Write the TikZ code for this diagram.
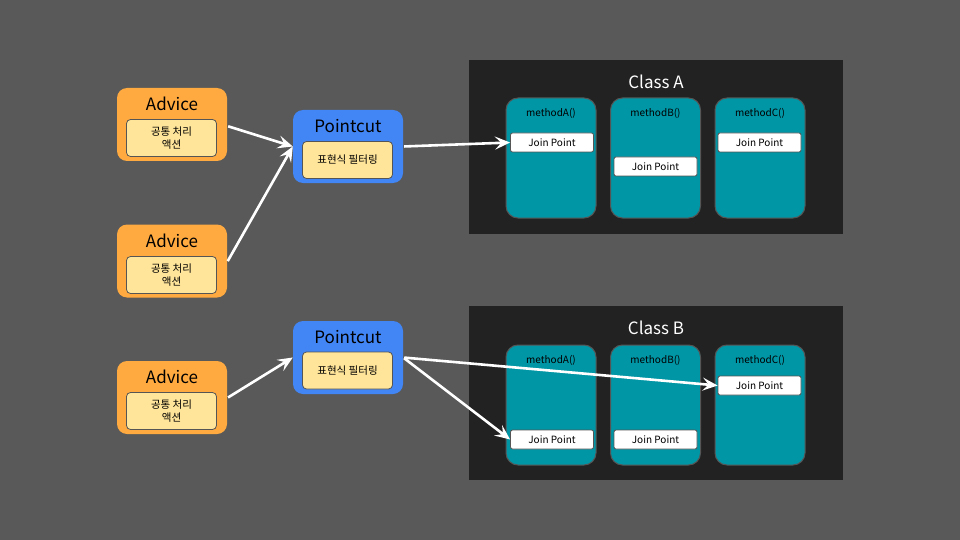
\documentclass[tikz,border=0pt]{standalone}
\usepackage{fontspec}
\setmainfont{Noto Sans CJK KR}
\usetikzlibrary{arrows.meta}
\definecolor{bgc}{RGB}{89,89,89}
\definecolor{classbg}{RGB}{34,34,34}
\definecolor{teal}{RGB}{0,150,166}
\definecolor{orangec}{RGB}{255,170,64}
\definecolor{innerc}{RGB}{255,229,153}
\definecolor{bluec}{RGB}{66,133,244}
\definecolor{edgec}{RGB}{85,85,85}
\tikzset{
  advicebox/.style={fill=orangec, draw=none, rounded corners=10pt, minimum width=110pt, minimum height=73pt, inner sep=0pt},
  pcbox/.style={fill=bluec, draw=none, rounded corners=10pt, minimum width=110pt, minimum height=73pt, inner sep=0pt},
  innerbox/.style={fill=innerc, draw=edgec, line width=0.8pt, rounded corners=4pt, minimum width=90pt, minimum height=37pt, inner sep=0pt, font=\fontsize{10.5}{12.5}\selectfont, align=center},
  title/.style={font=\fontsize{17}{20}\selectfont, text=black},
  classbox/.style={fill=classbg, draw=none, minimum width=374pt, minimum height=174pt, inner sep=0pt},
  classtitle/.style={font=\fontsize{17}{20}\selectfont, text=white},
  methodbox/.style={fill=teal, draw=edgec, line width=1pt, rounded corners=12pt, minimum width=90pt, minimum height=120pt, inner sep=0pt},
  methodlabel/.style={font=\fontsize{10}{11}\selectfont, text=black},
  jpbox/.style={fill=white, draw=edgec, line width=0.8pt, rounded corners=2pt, minimum width=83pt, minimum height=19pt, inner sep=0pt, font=\fontsize{10}{11}\selectfont},
  conn/.style={draw=white, line width=2.6pt, -{Stealth[length=15pt,width=13pt,inset=6pt]}, shorten <=1pt}
}
\begin{document}
\begin{tikzpicture}[x=1pt,y=-1pt]
\fill[bgc] (0,0) rectangle (960,540);
\useasboundingbox (0,0) rectangle (960,540);

% Advice boxes
\node[advicebox] (adv1) at (172,124.5) {};
\node[title] at (172,104) {Advice};
\node[innerbox] (adv1i) at (171.5,138) {공통 처리\\액션};
\node[advicebox] (adv2) at (172,261) {};
\node[title] at (172,241) {Advice};
\node[innerbox] (adv2i) at (171.5,275) {공통 처리\\액션};
\node[advicebox] (adv3) at (172,397.5) {};
\node[title] at (172,377) {Advice};
\node[innerbox] (adv3i) at (171.5,411) {공통 처리\\액션};

% Pointcut boxes
\node[pcbox] (pc1) at (348,146.5) {};
\node[title] at (348,126) {Pointcut};
\node[innerbox] (pc1i) at (347.5,160) {표현식 필터링};
\node[pcbox] (pc2) at (348,357.5) {};
\node[title] at (348,337) {Pointcut};
\node[innerbox] (pc2i) at (347.5,370.5) {표현식 필터링};

% Class A
\node[classbox] (clsA) at (656,147) {};
\node[classtitle] at (656,82) {Class A};
\node[methodbox] (aA) at (551,158) {};
\node[methodlabel] at (551,113.5) {methodA()};
\node[methodbox] (aB) at (655.5,158) {};
\node[methodlabel] at (655.5,113.5) {methodB()};
\node[methodbox] (aC) at (760,158) {};
\node[methodlabel] at (760,113.5) {methodC()};
\node[jpbox] (jpAA) at (552,142.5) {Join Point};
\node[jpbox] (jpAB) at (655.5,166.5) {Join Point};
\node[jpbox] (jpAC) at (759.5,142.5) {Join Point};

% Class B
\node[classbox] (clsB) at (656,393) {};
\node[classtitle] at (656,328) {Class B};
\node[methodbox] (bA) at (551,405) {};
\node[methodlabel] at (551,360.5) {methodA()};
\node[methodbox] (bB) at (655.5,405) {};
\node[methodlabel] at (655.5,360.5) {methodB()};
\node[methodbox] (bC) at (760,405) {};
\node[methodlabel] at (760,360.5) {methodC()};
\node[jpbox] (jpBA) at (552,439.5) {Join Point};
\node[jpbox] (jpBB) at (655.5,439.5) {Join Point};
\node[jpbox] (jpBC) at (759.5,385.5) {Join Point};

% Connectors
\draw[conn] (adv1.east |- 0,126) -- (pc1.west);
\draw[conn] (adv2.east |- 0,262) -- (pc1.west);
\draw[conn] (pc1.east) -- (jpAA.west);
\draw[conn] (adv3.east |- 0,398) -- (pc2.west);
\draw[conn] (pc2.east) -- (jpBA.west);
\draw[conn] (pc2.east) -- (jpBC.west);
\end{tikzpicture}
\end{document}
